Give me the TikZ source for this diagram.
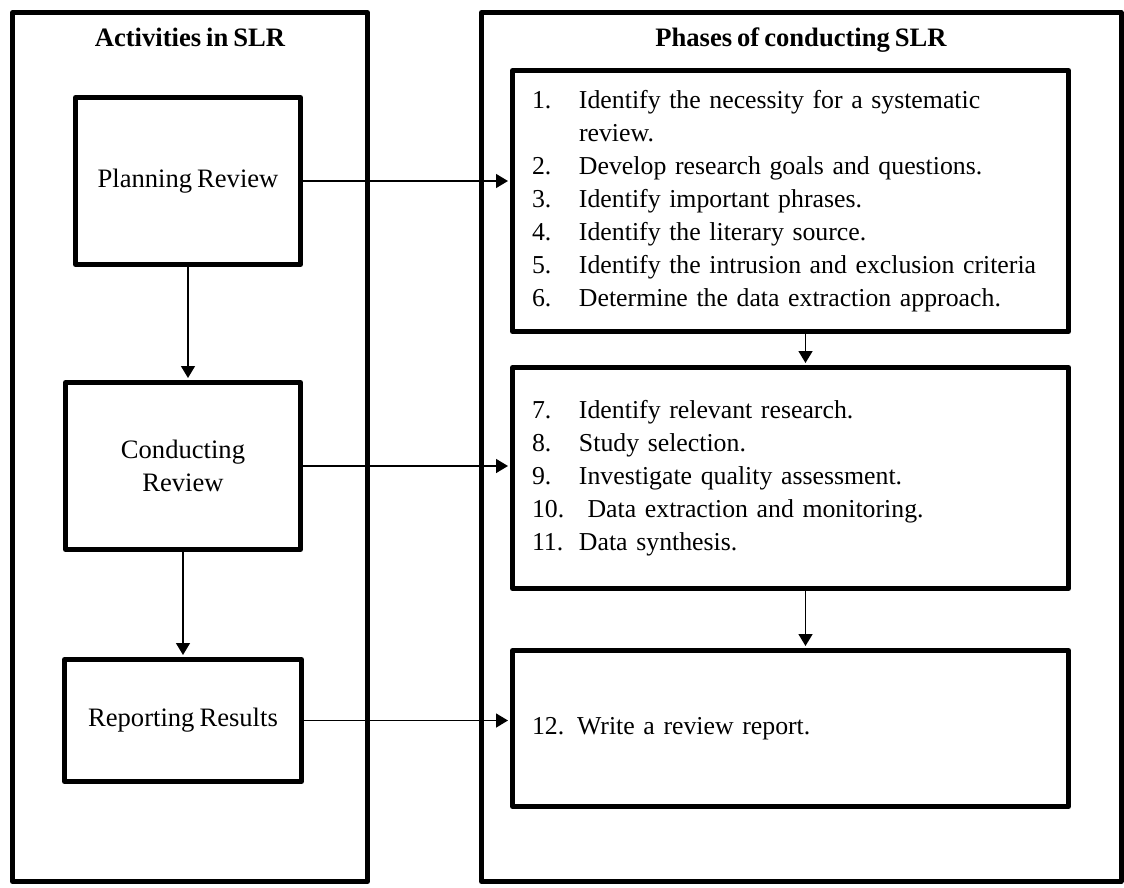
\documentclass[tikz,border=0pt]{standalone}
\usepackage{fontspec}
\setmainfont[WordSpace=0.75]{Liberation Serif}
\usetikzlibrary{arrows.meta}

\newcommand{\pitem}[2]{\makebox[23.5pt][l]{#1}\mbox{#2}}
\newcommand{\pcont}[1]{\hspace*{23.5pt}\mbox{#1}}

\begin{document}
\begin{tikzpicture}[x=0.5pt, y=-0.5pt, line cap=round, line join=round,
    font=\fontsize{13.3}{16.5}\selectfont,
    frame/.style={line width=2.5pt},
    activity/.style={draw, line width=2.5pt, inner sep=0pt, align=center},
    phase/.style={draw, line width=2.5pt, inner xsep=9.75pt, inner ysep=0pt,
      text width=258.5pt, align=left, font=\fontsize{12.9}{16.5}\selectfont},
    heading/.style={anchor=base, font=\fontsize{13.3}{16.5}\selectfont\bfseries},
    link/.style={line width=0.75pt, -{Triangle[length=6pt,width=7pt]}, shorten >=1pt}]
  \useasboundingbox (0,0) rectangle (1124,888);

  % the two columns
  \draw[frame] (12.5,12.5) rectangle (367.5,881.5);
  \draw[frame] (481.5,12.5) rectangle (1121,881.5);
  \node[heading] (acthead) at (190,47) {Activities in SLR};
  \node[heading] (phasehead) at (801,47) {Phases of conducting SLR};

  % activities
  \node[activity, minimum width=112.5pt, minimum height=83.5pt] (plan) at (188,181) {Planning Review};
  \node[activity, minimum width=117.5pt, minimum height=83.5pt] (conduct) at (183,466) {Conducting\\Review};
  \node[activity, minimum width=118.5pt, minimum height=61pt] (report) at (183,720.5) {Reporting Results};

  % phases
  \node[phase, minimum height=130.5pt] (ph1) at (790.5,201) {%
    \pitem{1.}{Identify the necessity for a systematic}\\
    \pcont{review.}\\
    \pitem{2.}{Develop research goals and questions.}\\
    \pitem{3.}{Identify important phrases.}\\
    \pitem{4.}{Identify the literary source.}\\
    \pitem{5.}{Identify the intrusion and exclusion criteria}\\
    \pitem{6.}{Determine the data extraction approach.}};
  \node[phase, minimum height=110.5pt] (ph2) at (790.5,478) {%
    \pitem{7.}{Identify relevant research.}\\
    \pitem{8.}{Study selection.}\\
    \pitem{9.}{Investigate quality assessment.}\\
    \pitem{10.}{\ Data extraction and monitoring.}\\
    \pitem{11.}{Data synthesis.}};
  \node[phase, minimum height=78pt] (ph3) at (790.5,728.5) {\mbox{12. Write a review report.}};

  % connectors
  \draw[link] (plan.east) -- (plan.east -| ph1.west);
  \draw[link] (conduct.east) -- (conduct.east -| ph2.west);
  \draw[link] (report.east) -- (report.east -| ph3.west);
  \draw[link] (plan.south) -- (plan.south |- conduct.north);
  \draw[link] (conduct.south) -- (report.north);
  \draw[link] ([xshift=7.5pt]ph1.south) -- ([xshift=7.5pt]ph2.north);
  \draw[link] ([xshift=7.5pt]ph2.south) -- ([xshift=7.5pt]ph3.north);
\end{tikzpicture}
\end{document}
